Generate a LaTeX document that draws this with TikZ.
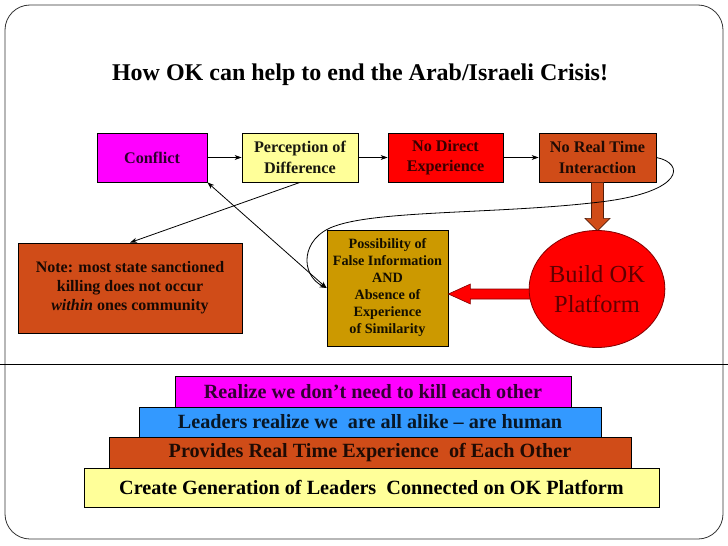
\documentclass[tikz,border=0pt]{standalone}
\usepackage{fontspec}
\setmainfont{Liberation Serif}
\usetikzlibrary{arrows.meta,calc,shapes.geometric}
\definecolor{cmag}{RGB}{255,0,255}
\definecolor{cyel}{RGB}{255,255,153}
\definecolor{cred}{RGB}{255,0,0}
\definecolor{corg}{RGB}{208,76,24}
\definecolor{cgold}{RGB}{204,153,0}
\definecolor{cblue}{RGB}{51,153,255}
\begin{document}
\begin{tikzpicture}[x=1pt,y=-1pt,
  box/.style={draw=black, line width=0.8pt, inner sep=0pt, align=center, font=\bfseries\fontsize{16.2}{20.5}\selectfont},
  band/.style={draw=black, line width=0.8pt, inner sep=0pt, align=center, font=\bfseries\fontsize{20.2}{24}\selectfont},
  arr/.style={-{Stealth[length=7pt,width=5pt]}, line width=0.8pt},
  darr/.style={{Stealth[length=7pt,width=5pt]}-{Stealth[length=7pt,width=5pt]}, line width=0.8pt}]
\useasboundingbox (0,0) rectangle (728,546);
% frame
\draw[black!80, line width=0.8pt, rounded corners=25pt] (5,5) rectangle (723,539);
\draw[black, line width=0.8pt] (0,364) -- (728,364);
% title
\node[font=\bfseries\fontsize{24}{28}\selectfont] (title) at (360,75) {How OK can help to end the Arab/Israeli Crisis!};
% top row
\node[box, fill=cmag, text=black!82!cmag, minimum width=110pt, minimum height=49pt] (conflict) at (152,157.5) {Conflict};
\node[box, fill=cyel, text=black!90!cyel, minimum width=116pt, minimum height=49pt] (perc) at (300,157.5) {Perception of\\Difference};
\node[box, fill=cred, text=black!78!cred, minimum width=115pt, minimum height=49pt] (nodirect) at (445.5,157.5) {No Direct\\Experience};
\node[box, fill=corg, text=black!85!corg, minimum width=117pt, minimum height=49pt] (nrt) at (597.5,157.5) {No Real Time\\Interaction};
% middle
\node[box, fill=corg, text=black!88!corg, minimum width=224pt, minimum height=90pt, font=\bfseries\fontsize{16}{19}\selectfont] (note) at (130,288) {Note: most state sanctioned\\killing does not occur\\\textit{within} ones community};
\node[box, fill=cgold, text=black!90!cgold, minimum width=121pt, minimum height=116pt, font=\bfseries\fontsize{14.2}{17}\selectfont] (poss) at (387.5,288) {Possibility of\\False Information\\AND\\Absence of\\Experience\\of Similarity};
% block arrows
\draw[fill=corg, draw=black!60!corg, line width=0.6pt]
  ($(nrt.south)+(-6,0)$) -- ($(nrt.south)+(-6,36)$) -- ($(nrt.south)+(-12.5,36)$) --
  ($(nrt.south)+(0,48.5)$) -- ($(nrt.south)+(12.5,36)$) -- ($(nrt.south)+(6,36)$) --
  ($(nrt.south)+(6,0)$) -- cycle;
\draw[fill=cred, draw=black!50!cred, line width=0.6pt]
  ($(poss.east)+(0,6)$) -- ($(poss.east)+(22,-4)$) -- ($(poss.east)+(22,1)$) --
  ($(poss.east)+(95,1)$) -- ($(poss.east)+(95,11)$) -- ($(poss.east)+(22,11)$) --
  ($(poss.east)+(22,16)$) -- cycle;
\node[ellipse, draw=black!50!cred, line width=0.8pt, fill=cred, text=black!62!cred, minimum width=129pt, minimum height=117pt, inner sep=0pt, align=center, font=\fontsize{24.5}{30}\selectfont] (build) at (597,289) {Build OK\\ Platform};
% connectors
\draw[arr] (conflict.east) -- (perc.west);
\draw[arr] (perc.east) -- (nodirect.west);
\draw[arr] (nodirect.east) -- (nrt.west);
\draw[arr] (perc.south) -- (note.north);
\draw[darr] (conflict.south east) -- (poss.west);
\draw[arr] (nrt.east) .. controls (685,163) and (685,192) .. (600,202)
  .. controls (500,214) and (380,210) .. (335,226)
  .. controls (300,238) and (300,275) .. (poss.west);
% bottom stack
\node[band, fill=cmag, text=black!80!cmag, minimum width=396pt, minimum height=31pt] (realize) at (373,391.5) {Realize we don’t need to kill each other};
\node[band, fill=cblue, text=black!85!cblue, minimum width=462pt, minimum height=30pt] (leaders) at (370,422) {Leaders realize we\ \ are all alike – are human};
\node[band, fill=corg, text=black!85!corg, minimum width=522pt, minimum height=31pt] (provides) at (370,452.5) {Provides Real Time Experience\ \ of Each Other};
\node[band, fill=cyel, text=black, minimum width=575pt, minimum height=39pt] (create) at (371.5,487.5) {Create Generation of Leaders\ \ Connected on OK Platform};
\end{tikzpicture}
\end{document}
